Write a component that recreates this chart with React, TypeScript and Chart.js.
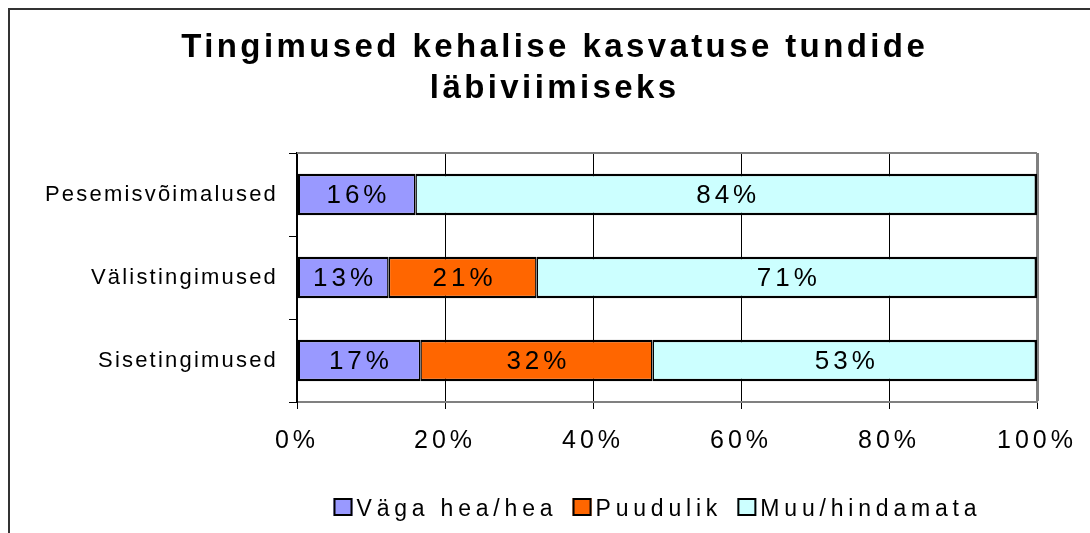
import React, { useEffect, useRef } from 'react';
import { Chart, registerables } from 'chart.js';

Chart.register(...registerables);

// ---- Data -------------------------------------------------------------
const TITLE_LINES = ['Tingimused kehalise kasvatuse tundide', 'läbiviimiseks'];
const CATEGORIES = ['Pesemisvõimalused', 'Välistingimused', 'Sisetingimused'];
const SERIES_NAMES = ['Väga hea/hea', 'Puudulik', 'Muu/hindamata'];
const VERY_GOOD: (number | null)[] = [16, 13, 17];
const POOR: (number | null)[] = [null, 21, 32];
const OTHER: (number | null)[] = [84, 71, 53];
const X_TICKS = [0, 20, 40, 60, 80, 100];

// ---- Styles -----------------------------------------------------------
const FONT = "'Liberation Sans', Arial, Helvetica, sans-serif";
const COLORS = ['#9999FF', '#FF6600', '#CCFFFF'];
const W = 1090;
const H = 533;

const RAW = [VERY_GOOD, POOR, OTHER];
// 100% stacked: each bar is shown as its share of the category total
const TOTALS = CATEGORIES.map((_, i) => RAW.reduce((s, arr) => s + (arr[i] ?? 0), 0));
const share = (arr: (number | null)[]) =>
  arr.map((v, i) => (v == null ? null : (v / TOTALS[i]) * 100));

const BORDERS = [
  { left: 2.5, right: 1.5, top: 2.5, bottom: 2.5 },
  { left: 1.5, right: 1.5, top: 2.5, bottom: 2.5 },
  { left: 1.5, right: 2.5, top: 2.5, bottom: 2.5 },
];

function withSpacing(chart: any, spacing: string, fn: () => void) {
  const ctx = chart.ctx as any;
  const prev = ctx.letterSpacing;
  ctx.letterSpacing = spacing;
  fn();
  ctx.letterSpacing = prev ?? '0px';
}

const spacingPatch = {
  id: 'spacingPatch',
  afterLayout(chart: any) {
    const cfg: Record<string, string> = { x: '4px', y: '2.2px' };
    Object.keys(cfg).forEach((id) => {
      const scale = chart.scales[id];
      if (!scale || scale.__patched) return;
      const orig = scale.drawLabels.bind(scale);
      scale.drawLabels = (area: any) => withSpacing(chart, cfg[id], () => orig(area));
      scale.__patched = true;
    });
  },
};

const framePlugin = {
  id: 'frame',
  beforeDraw(chart: any) {
    const ctx = chart.ctx;
    ctx.save();
    ctx.strokeStyle = '#333333';
    ctx.lineWidth = 2;
    ctx.beginPath();
    ctx.moveTo(9, H + 5);
    ctx.lineTo(9, 9);
    ctx.lineTo(W + 5, 9);
    ctx.stroke();
    ctx.restore();
  },
  beforeDatasetsDraw(chart: any) {
    const { ctx, chartArea } = chart;
    ctx.save();
    ctx.strokeStyle = '#808080';
    ctx.lineWidth = 2;
    ctx.beginPath();
    ctx.moveTo(chartArea.left, chartArea.top);
    ctx.lineTo(chartArea.right, chartArea.top);
    ctx.stroke();
    ctx.restore();
  },
};

const valueLabels = {
  id: 'valueLabels',
  afterDatasetsDraw(chart: any) {
    const ctx = chart.ctx;
    const ls = 4;
    ctx.save();
    ctx.letterSpacing = ls + 'px';
    ctx.font = `26px ${FONT}`;
    ctx.fillStyle = '#000';
    ctx.textAlign = 'center';
    ctx.textBaseline = 'middle';
    chart.data.datasets.forEach((_: any, di: number) => {
      const meta = chart.getDatasetMeta(di);
      meta.data.forEach((el: any, i: number) => {
        const v = RAW[di][i];
        if (v == null) return;
        const { x, y, base } = el.getProps(['x', 'y', 'base'], true);
        ctx.fillText(`${v}%`, (x + base) / 2 + ls / 2, y + 1);
      });
    });
    ctx.restore();
  },
};

const titleAndLegend = {
  id: 'titleAndLegend',
  afterDraw(chart: any) {
    const ctx = chart.ctx;
    ctx.save();
    // Title
    const tls = 3.4;
    ctx.letterSpacing = tls + 'px';
    ctx.font = `bold 33px ${FONT}`;
    ctx.fillStyle = '#000';
    ctx.textAlign = 'left';
    ctx.textBaseline = 'alphabetic';
    const cx = 553;
    const baselines = [57, 98];
    TITLE_LINES.forEach((line, i) => {
      const w = ctx.measureText(line).width - tls;
      ctx.fillText(line, cx - w / 2, baselines[i]);
    });

    // Legend
    const lls = 4.8;
    ctx.letterSpacing = lls + 'px';
    ctx.font = `23px ${FONT}`;
    const box = 19;
    const gapBoxText = 4;
    const gapItems = 20;
    const widths = SERIES_NAMES.map((n) => ctx.measureText(n).width - lls);
    const total =
      widths.reduce((a, b) => a + b, 0) +
      SERIES_NAMES.length * (box + gapBoxText) +
      gapItems * (SERIES_NAMES.length - 1);
    let x = 655 - total / 2;
    const baseline = 516;
    SERIES_NAMES.forEach((name, i) => {
      ctx.fillStyle = COLORS[i];
      ctx.fillRect(x, baseline - 18, box, 18);
      ctx.strokeStyle = '#000';
      ctx.lineWidth = 2;
      ctx.strokeRect(x + 1, baseline - 17, box - 2, 16);
      x += box + gapBoxText;
      ctx.fillStyle = '#000';
      ctx.fillText(name, x, baseline);
      x += widths[i] + gapItems;
    });
    ctx.restore();
  },
};

export default function App() {
  const ref = useRef<HTMLCanvasElement | null>(null);

  useEffect(() => {
    if (!ref.current) return;
    const chart = new Chart(ref.current, {
      type: 'bar',
      data: {
        labels: CATEGORIES,
        datasets: SERIES_NAMES.map((name, k) => ({
          label: name,
          data: share(RAW[k]) as any,
          backgroundColor: COLORS[k],
          borderColor: '#000',
          borderWidth: BORDERS[k] as any,
          borderSkipped: false,
          inflateAmount: 0,
          barPercentage: 0.5,
          categoryPercentage: 1,
        })),
      },
      options: {
        indexAxis: 'y',
        animation: false,
        responsive: false,
        maintainAspectRatio: false,
        layout: { padding: { left: 0, right: 53, top: 153, bottom: 0 } },
        plugins: {
          legend: { display: false },
          title: { display: false },
          tooltip: { enabled: false },
        },
        scales: {
          x: {
            stacked: true,
            min: 0,
            max: 100,
            afterBuildTicks: (s: any) => {
              s.ticks = X_TICKS.map((v) => ({ value: v }));
            },
            afterFit: (s: any) => {
              s.height = 131;
            },
            ticks: {
              callback: (v: any) => `${v}%`,
              color: '#000',
              font: { family: FONT, size: 25 },
              padding: 17,
              maxRotation: 0,
              autoSkip: false,
            },
            grid: {
              color: (c: any) => (c.index === X_TICKS.length - 1 ? '#808080' : '#000'),
              lineWidth: (c: any) => (c.index === X_TICKS.length - 1 ? 3 : 1),
              tickColor: '#000',
              tickLength: 7,
              tickWidth: 1,
            },
            border: { color: '#808080', width: 2 },
          },
          y: {
            stacked: true,
            afterFit: (s: any) => {
              s.width = 297;
            },
            ticks: {
              color: '#000',
              font: { family: FONT, size: 22 },
              padding: 11,
            },
            grid: {
              offset: true,
              drawOnChartArea: false,
              tickLength: 8,
              color: '#000',
            },
            border: { color: '#000', width: 2 },
          },
        },
      },
      plugins: [spacingPatch, framePlugin, valueLabels, titleAndLegend],
    });
    return () => chart.destroy();
  }, []);

  return (
    <div style={{ position: 'absolute', left: 0, top: 0, width: W, height: H, background: '#fff' }}>
      <canvas ref={ref} width={W} height={H} style={{ width: W, height: H, display: 'block' }} />
    </div>
  );
}
